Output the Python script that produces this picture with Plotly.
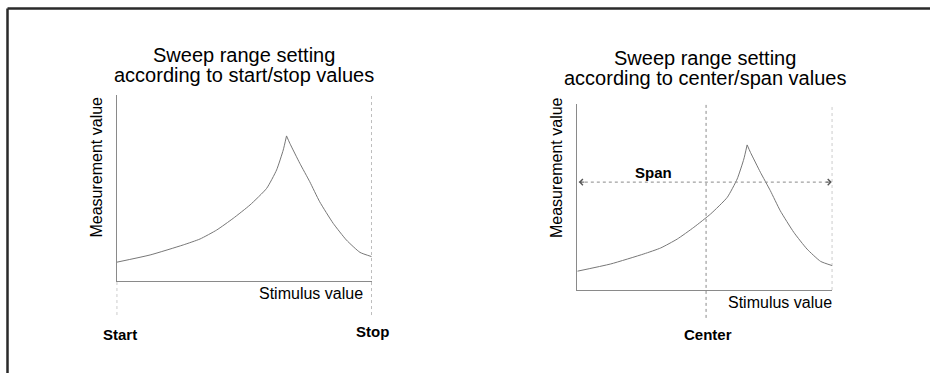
import plotly.graph_objects as go

# ---------------- data ----------------
# Shared response curve (stimulus in % of sweep, measurement in % of axis height)
stimulus = [0, 13.1, 26.1, 32.7, 39.2, 45.7, 52.3, 58.8, 62.7, 65.3, 66.6,
            67.9, 71.8, 75.7, 79.6, 84.9, 90.1, 95.4, 100]
measurement = [10.1, 14.0, 19.4, 22.6, 27.4, 33.7, 40.9, 49.8, 59.7, 70.4, 78.0,
               74.0, 63.3, 53.4, 42.6, 31.0, 22.0, 15.4, 13.1]
peak_index = 10

start_x = 0
stop_x = 100
center_x = 50.5
span_level = 58

titles_left = ["Sweep range setting", "according to start/stop values"]
titles_right = ["Sweep range setting", "according to center/span values"]
y_label = "Measurement value"
x_label = "Stimulus value"
marker_labels = {"start": "Start", "stop": "Stop", "center": "Center", "span": "Span"}

# ---------------- layout helpers ----------------
W, H = 930, 373


def px(x):
    return x / W


def py(y):
    return (H - y) / H


AX = "#8a8a8a"
CURVE = "#777777"
FONT = "Liberation Sans, Arial, Helvetica, sans-serif"

fig = go.Figure()

rise_x, rise_y = stimulus[:peak_index + 1], measurement[:peak_index + 1]
fall_x, fall_y = stimulus[peak_index:], measurement[peak_index:]

for xa, ya in (("x", "y"), ("x2", "y2")):
    for sx, sy in ((rise_x, rise_y), (fall_x, fall_y)):
        fig.add_trace(go.Scatter(x=sx, y=sy, xaxis=xa, yaxis=ya, mode="lines",
                                 line=dict(color=CURVE, width=1, shape="spline", smoothing=0.5),
                                 hoverinfo="skip", showlegend=False))

axis_common = dict(range=[0, 100], showgrid=False, zeroline=False, showticklabels=False,
                   ticks="", showline=True, linecolor=AX, linewidth=1, fixedrange=True)

fig.update_layout(
    width=W, height=H,
    margin=dict(l=0, r=0, t=0, b=0),
    paper_bgcolor="white", plot_bgcolor="white",
    showlegend=False,
    xaxis=dict(domain=[px(116.7), px(371.7)], anchor="y", **axis_common),
    yaxis=dict(domain=[py(281), py(95)], anchor="x", **axis_common),
    xaxis2=dict(domain=[px(577.3), px(832.3)], anchor="y2", **axis_common),
    yaxis2=dict(domain=[py(290), py(104)], anchor="x2", **axis_common),
)

dot = dict(color=AX, width=1, dash="dot")
frame = dict(color="#2a2a2a", width=2.5)
shapes = [
    # outer frame (only top/left edges visible)
    dict(type="line", xref="paper", yref="paper", x0=px(7.5), x1=1, y0=py(8.5), y1=py(8.5), line=frame),
    dict(type="line", xref="paper", yref="paper", x0=px(7.5), x1=px(7.5), y0=0, y1=py(8.5), line=frame),
    # left panel: start / stop markers
    dict(type="line", xref="x", yref="y domain", x0=start_x, x1=start_x, y0=-0.183, y1=0, line=dot),
    dict(type="line", xref="x", yref="y domain", x0=stop_x, x1=stop_x, y0=-0.183, y1=1, line=dot),
    # right panel: center and stop edge, span line
    dict(type="line", xref="x2", yref="y2 domain", x0=center_x, x1=center_x, y0=-0.15, y1=1, line=dot),
    dict(type="line", xref="x2", yref="y2 domain", x0=stop_x, x1=stop_x, y0=0, y1=1, line=dot),
    dict(type="line", xref="x2", yref="y2", x0=start_x + 0.6, x1=stop_x - 0.6, y0=span_level, y1=span_level,
         line=dot),
]
fig.update_layout(shapes=shapes)

ann = []
tfont = dict(family=FONT, size=20, color="black")
for t, yy in zip(titles_left, (55, 75)):
    ann.append(dict(text=t, xref="x domain", yref="paper", x=0.5, y=py(yy), showarrow=False,
                    font=tfont, xanchor="center", yanchor="middle"))
for t, yy in zip(titles_right, (58, 78)):
    ann.append(dict(text=t, xref="x2 domain", yref="paper", x=0.5, y=py(yy), showarrow=False,
                    font=tfont, xanchor="center", yanchor="middle"))

lfont = dict(family=FONT, size=16, color="black")
ann += [
    dict(text=y_label, xref="paper", yref="paper", x=px(95.5), y=py(167), textangle=-90,
         showarrow=False, font=lfont, xanchor="center", yanchor="middle"),
    dict(text=y_label, xref="paper", yref="paper", x=px(556), y=py(168), textangle=-90,
         showarrow=False, font=lfont, xanchor="center", yanchor="middle"),
    dict(text=x_label, xref="x domain", yref="paper", x=1, y=py(293), xshift=-7,
         showarrow=False, font=lfont, xanchor="right", yanchor="middle"),
    dict(text=x_label, xref="x2 domain", yref="paper", x=1, y=py(302), xshift=2,
         showarrow=False, font=lfont, xanchor="right", yanchor="middle"),
]

bfont = dict(family=FONT, size=15, color="black", weight="bold")
ann += [
    dict(text=marker_labels["start"], xref="x", yref="paper", x=start_x, y=py(334), xshift=3,
         showarrow=False, font=bfont, xanchor="center", yanchor="middle"),
    dict(text=marker_labels["stop"], xref="x", yref="paper", x=stop_x, y=py(331), xshift=1,
         showarrow=False, font=bfont, xanchor="center", yanchor="middle"),
    dict(text=marker_labels["center"], xref="x2", yref="paper", x=center_x, y=py(334), xshift=2,
         showarrow=False, font=bfont, xanchor="center", yanchor="middle"),
    dict(text=marker_labels["span"], xref="x2", yref="y2", x=29.8, y=span_level, yshift=10,
         showarrow=False, font=bfont, xanchor="center", yanchor="middle"),
]

# arrowheads on span line
ann += [
    dict(text="", xref="x2", yref="y2", x=start_x + 0.6, y=span_level, ax=7, ay=0,
         showarrow=True, arrowhead=4, arrowsize=1.2, arrowwidth=1, arrowcolor="#555555", standoff=0),
    dict(text="", xref="x2", yref="y2", x=stop_x - 0.2, y=span_level, ax=-7, ay=0,
         showarrow=True, arrowhead=4, arrowsize=1.2, arrowwidth=1, arrowcolor="#555555", standoff=0),
]
fig.update_layout(annotations=ann)

fig.write_html("out.html", config={"displayModeBar": False, "staticPlot": True},
               post_script="document.body.style.margin='0';document.body.style.overflow='hidden';")
